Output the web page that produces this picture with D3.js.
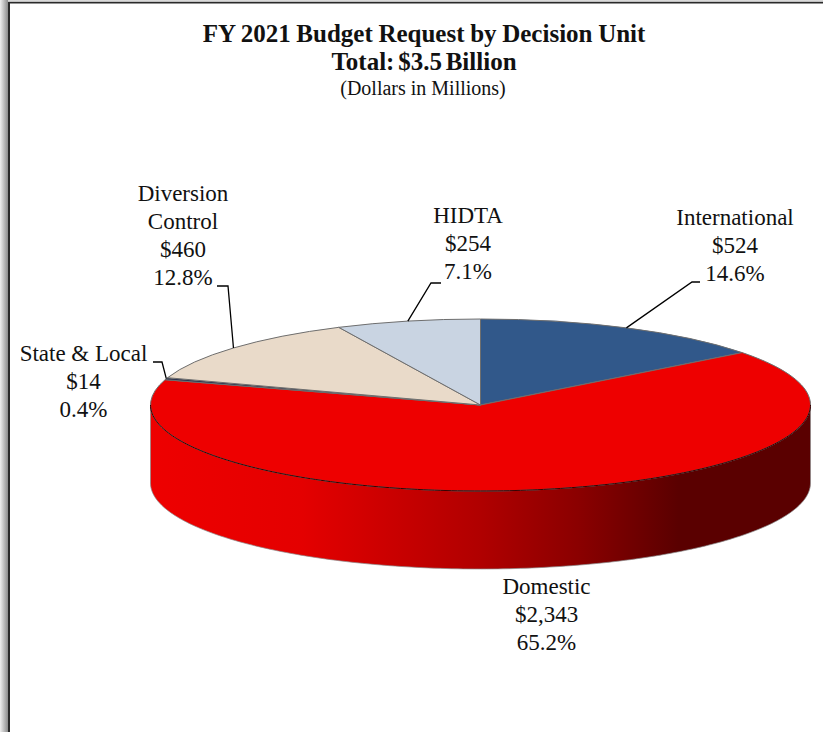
<!DOCTYPE html>
<meta charset="utf-8">
<style>
body { margin: 0; background: #fff; }
svg { display: block; }
text { font-family: "Liberation Serif", serif; fill: #111; text-anchor: middle; }
.slice { stroke: #6e6e6e; stroke-width: 1px; vector-effect: non-scaling-stroke; }
.leader { fill: none; stroke: #000; stroke-width: 1.3px; }
</style>
<svg width="823" height="732"></svg>
<script src="https://d3js.org/d3.v7.min.js"></script>
<script>

var categories = ["International", "Domestic", "State & Local", "Diversion Control", "HIDTA"];
var dollars = [524, 2343, 14, 460, 254];
var dollarLabels = ["$524", "$2,343", "$14", "$460", "$254"];
var percentLabels = ["14.6%", "65.2%", "0.4%", "12.8%", "7.1%"];
var colors = ["#31588a", "#ee0000", "#2c3350", "#e9dac9", "#c9d4e2"];

var titleLines = ["FY 2021 Budget Request by Decision Unit", "Total: $3.5 Billion"];
var subtitle = "(Dollars in Millions)";

var svg = d3.select("svg");

var cx = 480.5, cy = 405, rx = 330, ry = 86, depth = 78;

// frame + shadow
var defs = svg.append("defs");
var shadow = defs.append("linearGradient").attr("id", "shadow");
shadow.append("stop").attr("offset", 0).attr("stop-color", "#f0f0f0");
shadow.append("stop").attr("offset", 1).attr("stop-color", "#8c8c8c");
var topShadow = defs.append("linearGradient").attr("id", "topShadow")
    .attr("x1", 0).attr("x2", 0).attr("y1", 0).attr("y2", 1);
topShadow.append("stop").attr("offset", 0).attr("stop-color", "#e6e6e6");
topShadow.append("stop").attr("offset", 1).attr("stop-color", "#b4b4b4");

svg.append("rect").attr("x", 0).attr("y", 0).attr("width", 823).attr("height", 2).attr("fill", "url(#topShadow)");
svg.append("rect").attr("x", 0).attr("y", 0).attr("width", 8).attr("height", 732).attr("fill", "url(#shadow)");
svg.append("rect").attr("x", 8).attr("y", 2).attr("width", 815).attr("height", 1.5).attr("fill", "#2a2a2a");
svg.append("rect").attr("x", 8).attr("y", 2).attr("width", 2).attr("height", 730).attr("fill", "#2a2a2a");

// wall gradient, light on the left and dark on the right
var wall = defs.append("linearGradient").attr("id", "wall")
    .attr("gradientUnits", "userSpaceOnUse")
    .attr("x1", cx - rx).attr("x2", cx + rx).attr("y1", 0).attr("y2", 0);
wall.append("stop").attr("offset", 0).attr("stop-color", "#ee0000");
wall.append("stop").attr("offset", 0.23).attr("stop-color", "#e40000");
wall.append("stop").attr("offset", 0.5).attr("stop-color", "#b00000");
wall.append("stop").attr("offset", 0.65).attr("stop-color", "#8a0000");
wall.append("stop").attr("offset", 0.8).attr("stop-color", "#5a0000");
wall.append("stop").attr("offset", 1).attr("stop-color", "#5a0000");

var pie = d3.pie().sort(null)(dollars);

// rim of the pie: only the front half shows
var rimAngles = d3.range(Math.PI / 2, Math.PI * 1.5 + 0.001, Math.PI / 180);
var rim = d3.area()
    .x(function(a) { return cx + rx * Math.sin(a); })
    .y0(function(a) { return cy - ry * Math.cos(a); })
    .y1(function(a) { return cy - ry * Math.cos(a) + depth; });

svg.append("path")
    .attr("d", rim(rimAngles))
    .attr("fill", "url(#wall)")
    .attr("stroke", "#8a8a8a")
    .attr("stroke-width", 0.7);

var arc = d3.arc().innerRadius(0).outerRadius(rx);

svg.append("g")
    .attr("transform", "translate(" + cx + "," + cy + ") scale(1," + (ry / rx) + ")")
  .selectAll("path")
  .data(pie)
  .enter().append("path")
    .attr("class", "slice")
    .attr("d", arc)
    .attr("fill", function(d, i) { return colors[i]; });

// front edge of the red top
svg.append("path")
    .attr("d", d3.line()
      .x(function(a) { return cx + rx * Math.sin(a); })
      .y(function(a) { return cy - ry * Math.cos(a); })(rimAngles))
    .attr("fill", "none")
    .attr("stroke", "#3a0000")
    .attr("stroke-width", 1);

// titles
svg.selectAll(".title")
  .data(titleLines)
  .enter().append("text")
    .attr("class", "title")
    .attr("x", 424)
    .attr("y", function(d, i) { return 42 + i * 28; })
    .attr("font-size", 25)
    .attr("font-weight", "bold")
    .attr("word-spacing", function(d, i) { return i ? -2.5 : -0.6; })
    .text(function(d) { return d; });

svg.append("text")
    .attr("x", 423)
    .attr("y", 95)
    .attr("font-size", 20)
    .text(subtitle);

// label layout, same order as categories
var labelX = [735, 546.5, 83.5, 183, 468];
var labelY = [225, 594, 361, 201, 223];
var labelLines = [
  [categories[0]],
  [categories[1]],
  [categories[2]],
  ["Diversion", "Control"],
  [categories[4]]
];
// leader elbow: where it bends and where it ends, null for no leader
var elbow = [[692, 282, 700], null, [162, 362, 153], [228, 286, 217], [431, 283, 441]];

function rimPoint(d) {
  var a = (d.startAngle + d.endAngle) / 2;
  return [cx + rx * Math.sin(a), cy - ry * Math.cos(a)];
}

pie.forEach(function(d, i) {
  var lines = labelLines[i].concat([dollarLabels[i], percentLabels[i]]);
  svg.append("g").selectAll("text")
    .data(lines)
    .enter().append("text")
      .attr("x", labelX[i])
      .attr("y", function(t, j) { return labelY[i] + j * 28; })
      .attr("font-size", 23)
      .text(function(t) { return t; });

  if (elbow[i]) {
    var p = rimPoint(d), e = elbow[i];
    svg.append("path")
        .attr("class", "leader")
        .attr("d", d3.line()([p, [e[0], e[1]], [e[2], e[1]]]));
  }
});

</script>
